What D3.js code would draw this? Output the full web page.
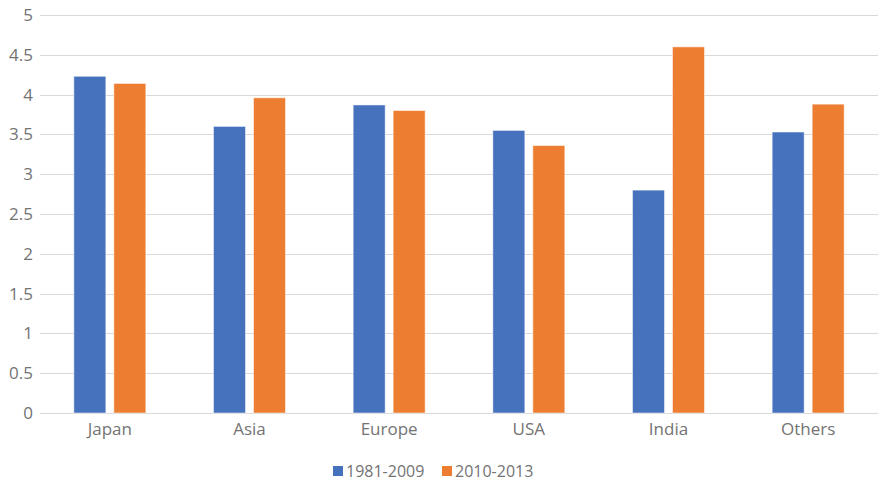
<!DOCTYPE html>
<html>
<head>
<meta charset="utf-8">
<script src="https://cdn.jsdelivr.net/npm/d3@7/dist/d3.min.js"></script>
<style>
  html, body { margin: 0; padding: 0; background: #fff; }
  svg { display: block; }
  svg text { font-family: "Open Sans", "Noto Sans", sans-serif; }
</style>
</head>
<body>
<svg id="chart" width="878" height="484"></svg>
<script>
const categories = ["Japan", "Asia", "Europe", "USA", "India", "Others"];
const seriesNames = ["1981-2009", "2010-2013"];
const values1981 = [4.23, 3.60, 3.87, 3.55, 2.80, 3.53];
const values2010 = [4.14, 3.96, 3.80, 3.36, 4.60, 3.88];
const yTicks = [0, 0.5, 1, 1.5, 2, 2.5, 3, 3.5, 4, 4.5, 5];
const colors = ["#4671BC", "#ED7D31"];
const textColor = "#737373";

const series = [values1981, values2010];
const svg = d3.select("#chart");
const margin = { left: 40, right: 0, top: 15, bottom: 71 };
const W = 878, H = 484;

const x = d3.scaleBand().domain(categories)
  .range([margin.left, W - margin.right]).paddingInner(0).paddingOuter(0);
const y = d3.scaleLinear().domain([0, 5]).range([H - margin.bottom, margin.top]);

// horizontal gridlines
svg.append("g")
  .selectAll("line").data(yTicks).join("line")
  .attr("x1", margin.left).attr("x2", W - margin.right)
  .attr("y1", d => Math.round(y(d)) + 0.5).attr("y2", d => Math.round(y(d)) + 0.5)
  .attr("stroke", "#d9d9d9").attr("stroke-width", 1);

// y axis labels
const yAxis = d3.axisLeft(y).tickValues(yTicks).tickSize(0).tickPadding(7)
  .tickFormat(d3.format("~g"));
svg.append("g").attr("transform", `translate(${margin.left},0)`).call(yAxis)
  .attr("font-family", null)
  .call(g => g.select(".domain").remove())
  .call(g => g.selectAll("text").attr("fill", textColor).style("font-size", "17px"));

// bars
const barW = 32, gap = 8;
const groupW = barW * 2 + gap;
series.forEach((vals, si) => {
  svg.append("g").selectAll("rect").data(categories).join("rect")
    .attr("x", c => x(c) + (x.bandwidth() - groupW) / 2 + si * (barW + gap))
    .attr("width", barW)
    .attr("y", (c, i) => y(vals[i]))
    .attr("height", (c, i) => y(0) - y(vals[i]))
    .attr("fill", colors[si])
    .attr("stroke", "#ffffff").attr("stroke-opacity", 0.5).attr("stroke-width", 1);
});

// x axis labels
const xAxis = d3.axisBottom(x).tickSize(0).tickPadding(10);
svg.append("g").attr("transform", `translate(0,${y(0)})`).call(xAxis)
  .attr("font-family", null)
  .call(g => g.select(".domain").remove())
  .call(g => g.selectAll("text").attr("fill", textColor).style("font-size", "17px"));

// legend
const legend = svg.append("g");
const legendItems = [
  { name: seriesNames[0], color: colors[0], x: 333 },
  { name: seriesNames[1], color: colors[1], x: 442 }
];
legendItems.forEach(it => {
  legend.append("rect").attr("x", it.x).attr("y", 466).attr("width", 10).attr("height", 10)
    .attr("fill", it.color);
  legend.append("text").attr("x", it.x + 13).attr("y", 471).attr("dy", "0.35em")
    .attr("fill", textColor).style("font-size", "16px").text(it.name);
});
</script>
</body>
</html>
